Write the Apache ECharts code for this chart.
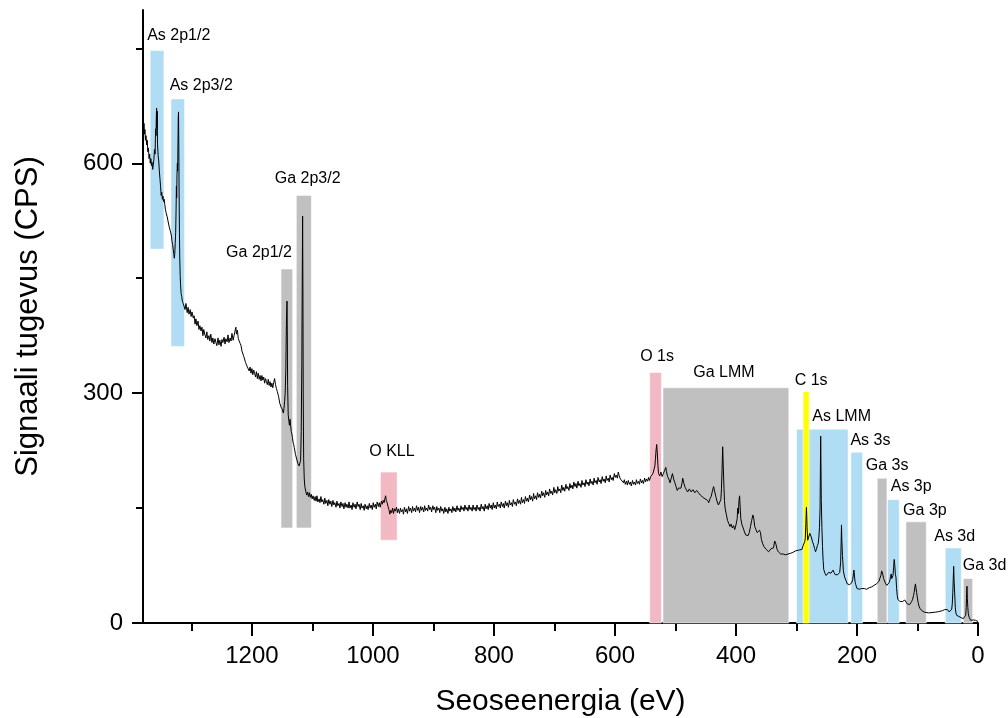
<!DOCTYPE html>
<html>
<head>
<meta charset="utf-8">
<script src="https://cdn.jsdelivr.net/npm/echarts@6/dist/echarts.min.js"></script>
<style>
  html, body { margin: 0; padding: 0; background: #fff; }
  #chart { width: 1008px; height: 718px; }
</style>
</head>
<body>
<div id="chart"></div>
<script>
// XPS survey spectrum: [binding energy (eV), intensity (CPS)]
const spectrum = [
  [1380, 656], [1379, 645], [1378.3, 652], [1377.5, 638], [1376.8, 644], [1376, 630], [1375, 636], [1374, 624],
  [1373, 630], [1372, 615], [1371, 620], [1370, 606], [1369, 612], [1368, 600], [1367, 606], [1366, 597],
  [1365, 601], [1364, 592], [1363, 598], [1362, 605], [1361, 618], [1360, 612], [1359.5, 632], [1359, 645],
  [1358.5, 636], [1358, 660], [1357.5, 672], [1357, 645], [1356.5, 668], [1356, 625], [1355, 610], [1354, 603],
  [1353, 590], [1352, 580], [1351, 570], [1350, 558], [1349, 562], [1348, 553], [1347, 557], [1346, 550],
  [1345, 553], [1344, 546], [1343, 540], [1342, 536], [1341, 538], [1340, 530], [1339, 528], [1338, 522],
  [1337, 518], [1336, 516], [1335, 512], [1334, 509], [1333, 505], [1332, 498], [1331, 494], [1330, 487],
  [1329, 481], [1328.3, 476], [1327.5, 482], [1326.8, 495], [1326, 510], [1325.3, 540], [1324.8, 570], [1324.3, 555],
  [1323.8, 585], [1323.2, 600], [1322.7, 590], [1322.2, 625], [1321.7, 660], [1321.3, 667], [1320.8, 620], [1320.3, 560],
  [1319.8, 510], [1319.2, 475], [1318.5, 452], [1317.8, 440], [1317, 430], [1316, 426], [1315, 420], [1313.5, 417],
  [1312, 415], [1310.5, 409], [1309, 417], [1307, 405], [1305.5, 412], [1304, 403], [1302, 409], [1300.5, 400],
  [1299, 406], [1297, 398], [1295.5, 401], [1294, 390], [1292.5, 397], [1291, 388], [1289, 394], [1287.5, 383],
  [1286, 388], [1284, 381], [1282.5, 386], [1281, 375], [1279.5, 383], [1278, 377], [1276, 372], [1274.5, 380],
  [1273, 370], [1271, 375], [1269.5, 368], [1268, 377], [1266, 366], [1264.5, 372], [1263, 364], [1261, 371],
  [1259.5, 366], [1258, 362], [1256, 372], [1254.5, 363], [1253, 369], [1251, 361], [1249.5, 370], [1248, 366],
  [1246, 373], [1244.5, 364], [1243, 371], [1241, 367], [1239.5, 376], [1238, 366], [1236, 372], [1234.5, 368],
  [1233, 378], [1231, 369], [1229.5, 375], [1228, 381], [1226.5, 386], [1225.5, 377], [1224, 382], [1222.5, 371],
  [1221, 372], [1219.5, 365], [1218, 362], [1216.5, 355], [1215, 357], [1213.5, 348], [1212, 347], [1210.5, 340],
  [1209, 342], [1207.5, 334], [1206, 336], [1204.5, 329], [1203, 334], [1201.5, 326], [1200, 332], [1198.5, 324],
  [1197, 330], [1195.5, 326], [1194, 321], [1192.5, 328], [1191, 319], [1189.5, 326], [1188, 318], [1186.5, 323],
  [1185, 316], [1183.5, 323], [1182, 317], [1180.5, 321], [1179, 313], [1177.5, 319], [1176, 315], [1174.5, 311],
  [1173, 318], [1171.5, 310], [1170, 315], [1168.5, 308], [1167, 313], [1165.5, 307], [1164, 314], [1162.5, 319],
  [1161, 311], [1159.5, 306], [1158, 302], [1156, 296], [1154, 287], [1152, 282], [1150, 279], [1148, 274],
  [1147, 280], [1146, 289], [1145, 300], [1144, 330], [1143, 390], [1142, 420], [1141.5, 380], [1141, 310],
  [1140, 272], [1139, 264], [1138, 258], [1137, 266], [1136, 258], [1135, 250], [1134, 247], [1133, 242],
  [1132, 236], [1131, 233], [1130, 229], [1128, 220], [1126, 214], [1124, 208], [1122, 205], [1121, 203],
  [1119.5, 212], [1118.5, 250], [1117.5, 340], [1116.8, 450], [1116.2, 531], [1115.7, 440], [1115.2, 300], [1114.5, 215],
  [1113.5, 188], [1112.5, 178], [1111, 172], [1109.5, 167], [1108, 171], [1106.5, 165], [1105, 170], [1103.5, 164],
  [1102, 168], [1100.5, 162], [1099, 166], [1097, 160], [1095.5, 165], [1094, 159], [1092.5, 166], [1091, 158],
  [1089, 162], [1087.5, 157], [1086, 165], [1084.5, 158], [1083, 161], [1081, 155], [1079.5, 163], [1078, 156],
  [1076, 160], [1074.5, 153], [1073, 161], [1071, 155], [1069.5, 159], [1068, 152], [1066, 160], [1064.5, 154],
  [1063, 157], [1061, 151], [1059.5, 159], [1058, 153], [1056, 156], [1054.5, 150], [1053, 158], [1051, 152],
  [1049.5, 156], [1048, 149], [1046, 157], [1044.5, 151], [1043, 155], [1041, 150], [1039.5, 158], [1038, 150],
  [1036, 154], [1034.5, 148], [1033, 157], [1031, 151], [1029.5, 155], [1028, 149], [1026, 158], [1024.5, 152],
  [1023, 155], [1021, 148], [1019.5, 156], [1018, 150], [1016, 153], [1014.5, 147], [1013, 155], [1011, 149],
  [1009.5, 153], [1008, 148], [1006, 156], [1004.5, 150], [1003, 154], [1001, 148], [999.5, 157], [998, 151],
  [996, 155], [994.5, 149], [993, 158], [991, 152], [989.5, 157], [988, 151], [986, 159], [984.5, 155],
  [983, 160], [981.5, 157], [980, 163], [979, 166], [978, 160], [976.5, 157], [975, 152], [973.5, 148],
  [972, 142], [970.5, 147], [969, 144], [967.5, 150], [966, 143], [964.5, 149], [963, 146], [961, 151],
  [959.5, 144], [958, 149], [956, 143], [954.5, 150], [953, 145], [951, 148], [949.5, 142], [948, 151],
  [946, 145], [944.5, 149], [943, 143], [941, 152], [939.5, 146], [938, 150], [936, 144], [934.5, 152],
  [933, 146], [931, 150], [929.5, 145], [928, 153], [926, 147], [924.5, 151], [923, 144], [921, 152],
  [919.5, 147], [918, 151], [916, 145], [914.5, 153], [913, 147], [911, 150], [909.5, 146], [908, 154],
  [906, 148], [904.5, 151], [903, 145], [901, 153], [899.5, 148], [898, 151], [896, 144], [894.5, 152],
  [893, 147], [891, 150], [889.5, 144], [888, 152], [886, 146], [884.5, 149], [883, 143], [881, 151],
  [879.5, 145], [878, 149], [876, 143], [874.5, 151], [873, 146], [871, 149], [869.5, 144], [868, 152],
  [866, 146], [864.5, 150], [863, 145], [861, 153], [859.5, 147], [858, 150], [856, 145], [854.5, 153],
  [853, 148], [851, 151], [849.5, 146], [848, 154], [846, 148], [844.5, 151], [843, 146], [841, 154],
  [839.5, 148], [838, 151], [836, 146], [834.5, 154], [833, 148], [831, 151], [829.5, 146], [828, 154],
  [826, 148], [824.5, 151], [823, 146], [821, 155], [819.5, 149], [818, 152], [816, 146], [814.5, 155],
  [813, 149], [811, 153], [809.5, 148], [808, 156], [806, 150], [804.5, 154], [803, 148], [801, 157],
  [799.5, 150], [798, 154], [796, 149], [794.5, 158], [793, 152], [791, 155], [789.5, 150], [788, 158],
  [786, 152], [784.5, 156], [783, 150], [781, 159], [779.5, 153], [778, 157], [776, 151], [774.5, 160],
  [773, 154], [771, 157], [769.5, 152], [768, 161], [766, 155], [764.5, 158], [763, 153], [761, 162],
  [759.5, 156], [758, 160], [756, 155], [754.5, 164], [753, 157], [751, 161], [749.5, 156], [748, 165],
  [746, 159], [744.5, 163], [743, 158], [741, 167], [739.5, 161], [738, 165], [736, 159], [734.5, 169],
  [733, 162], [731, 166], [729.5, 161], [728, 170], [726, 164], [724.5, 168], [723, 163], [721, 172],
  [719.5, 166], [718, 170], [716, 164], [714.5, 173], [713, 167], [711, 171], [709.5, 166], [708, 175],
  [706, 169], [704.5, 172], [703, 167], [701, 177], [699.5, 170], [698, 174], [696, 169], [694.5, 178],
  [693, 172], [691, 175], [689.5, 170], [688, 180], [686, 173], [684.5, 177], [683, 172], [681, 181],
  [679.5, 175], [678, 178], [676, 173], [674.5, 182], [673, 176], [671, 180], [669.5, 175], [668, 184],
  [666, 178], [664.5, 182], [663, 176], [661, 185], [659.5, 179], [658, 182], [656, 177], [654.5, 186],
  [653, 180], [651, 183], [649.5, 178], [648, 187], [646, 181], [644.5, 184], [643, 179], [641, 188],
  [639.5, 182], [638, 185], [636, 180], [634.5, 189], [633, 183], [631, 186], [629.5, 181], [628, 190],
  [626, 184], [624.5, 187], [623, 182], [621, 191], [619.5, 185], [618, 188], [616, 183], [614.5, 192],
  [613, 186], [611, 189], [609.5, 184], [608, 193], [606, 187], [604.5, 190], [603, 186], [601, 195],
  [599.5, 190], [598, 193], [596, 189], [594.5, 197], [593, 192], [591, 188], [589.5, 186], [588, 189],
  [586, 183], [584.5, 187], [583, 181], [581, 185], [579.5, 180], [578, 186], [576, 181], [574.5, 184],
  [573, 179], [571, 186], [569.5, 181], [568, 184], [566, 180], [564.5, 187], [563, 182], [561, 185],
  [559.5, 181], [558, 188], [556, 183], [554.5, 186], [553, 182], [551, 189], [549.5, 184], [548, 188],
  [546, 185], [544.5, 190], [543, 186], [541, 191], [539.5, 189], [538, 194], [536.5, 197], [535, 202],
  [534, 205], [533, 215], [532, 226], [531, 233], [530, 222], [529, 206], [528, 195], [526, 192],
  [524, 197], [522, 191], [520, 195], [518, 199], [516, 203], [515, 198], [513, 191], [511, 188],
  [509, 183], [507, 189], [505, 195], [503, 188], [501, 183], [499, 178], [497, 173], [495, 176],
  [493, 174], [491, 176], [489, 183], [488, 189], [486, 182], [484, 177], [482, 174], [480, 171],
  [477, 175], [474, 171], [471, 174], [468, 170], [465, 173], [462, 170], [459, 167], [456, 166],
  [453, 163], [450, 165], [447, 160], [445, 157], [443, 162], [441, 165], [439, 172], [437, 178],
  [435, 171], [433, 164], [431, 158], [429, 154], [427, 156], [425, 161], [424, 175], [423, 200],
  [422, 230], [421, 205], [420, 180], [419, 160], [418, 150], [416, 142], [414, 134], [412, 130],
  [410, 126], [408, 129], [406, 124], [404, 127], [402, 122], [400, 128], [398, 136], [397, 150],
  [396, 143], [395, 160], [394, 166], [393, 150], [392, 136], [390, 128], [388, 124], [386, 119],
  [384, 115], [382, 117], [380, 114], [378, 118], [376, 126], [374, 134], [372, 141], [370.5, 136],
  [369, 126], [367, 122], [365, 118], [363, 116], [361, 121], [359.5, 118], [358, 109], [356, 104],
  [354, 100], [352, 98], [350, 96], [348, 94], [346, 93], [344, 95], [342, 97], [340, 95],
  [338, 98], [336, 107], [334, 103], [332, 96], [330, 93], [328, 91], [326, 90], [324, 89],
  [322, 90], [320, 88], [318, 89], [316, 88], [314, 90], [312, 89], [310, 91], [308, 90],
  [306, 92], [304, 92], [302, 94], [300, 94], [297, 95], [294, 93], [291, 96], [289, 101],
  [287.5, 103], [286.5, 106], [285.5, 110], [284.5, 130], [283.5, 151], [282.5, 125], [281.5, 108], [280, 110],
  [278, 117], [276.5, 118], [275, 111], [273.5, 106], [272, 103], [270, 97], [268.5, 93], [267, 96],
  [265.5, 101], [264, 104], [263, 112], [262, 125], [261, 150], [260.5, 200], [260, 244], [259.5, 205],
  [259, 160], [258, 125], [257, 100], [256, 82], [255, 70], [253, 65], [251, 62], [249, 64],
  [247, 66], [245, 67], [243, 65], [241, 64], [239.5, 69], [238, 66], [236, 63], [234, 62],
  [232, 63], [230, 64], [228.5, 66], [227, 80], [226.2, 105], [225.6, 128], [225, 108], [224, 88],
  [222.5, 68], [220.5, 60], [218, 55], [216, 51], [214.5, 49], [212.5, 50], [210.5, 51], [209, 52],
  [207, 57], [205.8, 65], [205, 69], [204, 60], [203, 53], [202, 50], [200, 45], [198, 43],
  [196, 44], [194, 45], [192.4, 45], [190, 44], [188, 45], [186, 43], [184, 44], [182, 45],
  [180, 46], [178, 47], [176, 47], [174, 48], [172, 49], [170, 50], [168, 51], [166, 52],
  [164, 54], [162, 56], [160.5, 62], [159.2, 68], [158.3, 70], [157.2, 63], [156, 58], [155, 56],
  [153, 52], [151, 49], [149.4, 47], [148, 49], [146.5, 53], [145.5, 56], [144.5, 61], [143.4, 64],
  [142.5, 58], [141.8, 56], [140.5, 62], [139.5, 72], [138.5, 83], [137.5, 75], [136.5, 63], [135.6, 60],
  [134.5, 45], [133.5, 36], [132.5, 31], [131, 30], [129, 28], [127, 27.5], [125, 28], [123, 29],
  [121, 30], [119, 28], [117, 25], [115.3, 23], [113, 24], [111, 26], [109.7, 28], [108, 31],
  [106.5, 36], [105.5, 40], [104.3, 47], [103.4, 51], [102.5, 46], [101.5, 40], [100.4, 34], [99, 27],
  [97.5, 22], [95.9, 19], [94, 17], [92, 15.5], [90.5, 14.4], [88, 14], [85, 13], [82, 13.2],
  [79.4, 13], [76, 13.6], [73, 14], [70, 14.2], [68.3, 14.4], [65, 14.8], [62, 15.3], [59, 16],
  [57.4, 16.6], [55, 17.5], [53, 18.3], [51.8, 18.8], [50.5, 17.5], [49, 15.5], [47.5, 14.4], [46, 14],
  [44.5, 15], [43.5, 18], [42.5, 25], [41.6, 40], [40.8, 60], [40.2, 74], [39.5, 55], [38.5, 38],
  [37.5, 20], [36.5, 13], [35.2, 10], [33.5, 9.5], [31.5, 8.5], [29.8, 7.8], [28, 7], [26, 6.2],
  [24.3, 5.7], [22.5, 6.5], [21, 8], [20.3, 10], [19.5, 20], [18.8, 38], [18.2, 48], [17.6, 32],
  [16.8, 20], [16, 12], [14.5, 7], [13, 5], [12.1, 3.5], [10.5, 4.5], [9, 3.5], [7.8, 4],
  [6, 3], [4, 3.5], [2.2, 3.5], [1, 2.5], [0, 2]
];

// Peak / region annotations: name, energy window (eV), intensity span (CPS)
const bandNames = ['As 2p1/2', 'As 2p3/2', 'Ga 2p1/2', 'Ga 2p3/2', 'O KLL', 'O 1s', 'Ga LMM', 'As LMM',
                   'C 1s', 'As 3s', 'Ga 3s', 'As 3p', 'Ga 3p', 'As 3d', 'Ga 3d'];
const bandHighEV = [1368.1, 1333.8, 1151.9, 1126.6, 987.6, 542.6, 520.6, 299.9, 289.0, 210.1, 166.6, 149.4, 119.1, 54.1, 24.3];
const bandLowEV  = [1345.4, 1311.3, 1132.7, 1101.7, 960.0, 523.2, 312.7, 214.6, 279.1, 190.7, 150.5, 130.2, 85.5, 27.6, 8.8];
const bandBottom = [488, 361, 124, 124, 108, 0, 0, 0, 0, 0, 0, 0, 0, 0, 0];
const bandTop    = [747, 684, 462, 558, 197, 327, 307, 253, 302, 223, 189, 161, 132, 98, 58];

// Axis ticks
const majorXTicks = [0, 200, 400, 600, 800, 1000, 1200];
const minorXTicks = [100, 300, 500, 700, 900, 1100, 1300];
const majorYTicks = [0, 300, 600];
const minorYTicks = [150, 450, 750];

// Styling
const FONT = '"Liberation Sans", Arial, Helvetica, sans-serif';
const elementColor = { As: '#b0dcf4', Ga: '#c0c0c0', O: '#f2b9c4', C: '#ffff00' };
// pixel nudge of each annotation label from the top-centre of its band
const labelNudge = [
  [21.7, -15], [23.5, -13.6], [-27.8, -16.3], [3.8, -16.7], [3.2, -20], [1.5, -16], [-2, -15], [19.3, -12.3],
  [5, -11.4], [13.7, -11.6], [5.1, -13], [17.8, -12.6], [8.8, -11.4], [1.4, -11.4], [16.5, -12.6]
];

const bandData = bandNames.map((n, i) => [bandHighEV[i], bandLowEV[i], bandBottom[i], bandTop[i]]);

const chart = echarts.init(document.getElementById('chart'), null, { renderer: 'canvas' });

const xRange = { min: 0, max: 1380, inverse: true };
const yRange = { min: 0, max: 800 };
const plainNumber = v => String(v);

chart.setOption({
  animation: false,
  backgroundColor: '#fff',
  grid: { left: 143, right: 30, top: 10, bottom: 95, containLabel: false, outerBoundsMode: 'none' },
  xAxis: [
    Object.assign({
      type: 'value', position: 'bottom',
      name: 'Seoseenergia (eV)', nameLocation: 'middle', nameGap: 64,
      nameTextStyle: { fontFamily: FONT, fontSize: 30, color: '#000' },
      axisLine: { show: true, onZero: false, lineStyle: { color: '#000', width: 2 } },
      axisTick: { show: true, customValues: majorXTicks, length: 13, lineStyle: { color: '#000', width: 2 } },
      axisLabel: { customValues: majorXTicks, formatter: plainNumber, margin: 21, fontFamily: FONT, fontSize: 24, color: '#000' },
      splitLine: { show: false }
    }, xRange),
    Object.assign({
      type: 'value', position: 'bottom',
      axisLine: { show: false, onZero: false },
      axisTick: { show: true, customValues: minorXTicks, length: 8, lineStyle: { color: '#000', width: 2 } },
      axisLabel: { show: false },
      splitLine: { show: false }
    }, xRange)
  ],
  yAxis: [
    Object.assign({
      type: 'value', position: 'left',
      name: 'Signaali tugevus (CPS)', nameLocation: 'middle', nameGap: 99, nameRotate: 90,
      nameTextStyle: { fontFamily: FONT, fontSize: 31, color: '#000' },
      axisLine: { show: true, onZero: false, lineStyle: { color: '#000', width: 2 } },
      axisTick: { show: true, customValues: majorYTicks, length: 11, lineStyle: { color: '#000', width: 2 } },
      axisLabel: { customValues: majorYTicks, formatter: plainNumber, margin: 20, fontFamily: FONT, fontSize: 24, color: '#000' },
      splitLine: { show: false }
    }, yRange),
    Object.assign({
      type: 'value', position: 'left',
      axisLine: { show: false, onZero: false },
      axisTick: { show: true, customValues: minorYTicks, length: 7, lineStyle: { color: '#000', width: 2 } },
      axisLabel: { show: false },
      splitLine: { show: false }
    }, yRange)
  ],
  series: [
    {
      type: 'custom',
      xAxisIndex: 0, yAxisIndex: 0,
      z: 1,
      clip: false,
      data: bandData,
      renderItem: function (params, api) {
        const i = params.dataIndex;
        const a = api.coord([api.value(0), api.value(3)]);
        const b = api.coord([api.value(1), api.value(2)]);
        const x0 = Math.min(a[0], b[0]);
        const x1 = Math.max(a[0], b[0]);
        const yTop = Math.min(a[1], b[1]);
        const yBot = Math.max(a[1], b[1]);
        const name = bandNames[i];
        const color = elementColor[name.split(' ')[0]];
        const nudge = labelNudge[i];
        return {
          type: 'group',
          children: [
            {
              type: 'rect',
              shape: { x: x0, y: yTop, width: x1 - x0, height: yBot - yTop },
              style: { fill: color, stroke: 'rgba(255,255,255,0.55)', lineWidth: 1 }
            },
            {
              type: 'text',
              z2: 10,
              style: {
                text: name,
                x: (x0 + x1) / 2 + nudge[0],
                y: yTop + nudge[1],
                align: 'center',
                verticalAlign: 'middle',
                fontFamily: FONT,
                fontSize: 16,
                fill: '#000'
              }
            }
          ]
        };
      }
    },
    {
      type: 'line',
      xAxisIndex: 0, yAxisIndex: 0,
      z: 3,
      data: spectrum,
      showSymbol: false,
      symbol: 'none',
      smooth: false,
      lineStyle: { color: '#000', width: 1 },
      emphasis: { disabled: true }
    }
  ]
});
</script>
</body>
</html>
